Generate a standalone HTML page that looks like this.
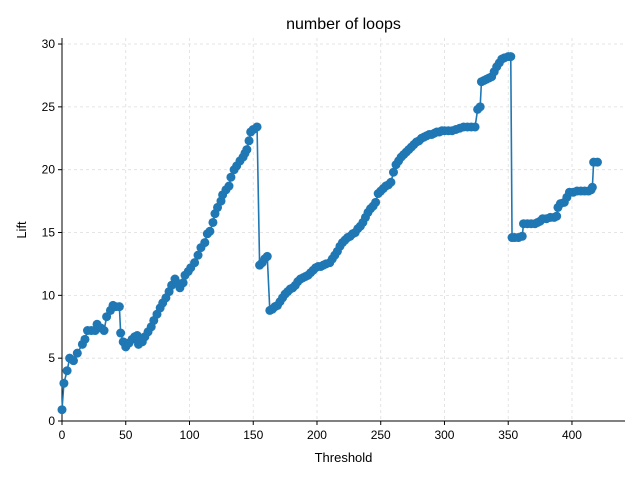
<!DOCTYPE html>
<html><head><meta charset="utf-8"><style>
body{margin:0;background:#fff;}
svg{display:block;font-family:"Liberation Sans","DejaVu Sans",sans-serif;}
</style></head><body>
<svg id="chart" width="640" height="480">
<rect width="640" height="480" fill="#fff"/>
<g id="grid"></g><g id="axes"></g><g id="series"></g>
<text x="343.5" y="29" text-anchor="middle" font-size="16">number of loops</text>
<text x="343.5" y="462" text-anchor="middle" font-size="13">Threshold</text>
<text transform="translate(26,230) rotate(-90)" text-anchor="middle" font-size="13">Lift</text>
</svg>
<script>
const thresholds=[0,1.5,4,6,9,12,16,18,20,23,26,27.5,30.5,33,35,38,40,42,45,46,48,50,52.5,55,57,59,60,63,65,67.5,70,72,74.5,77,79,81.5,84,86,88.6,90,92.5,95,96.5,99,101,104,106.7,109,112,114,116,118.4,120,122,124.7,126,128.6,131,132.5,135,137,139.6,142,143.5,145,146.7,148,150,153,155,157,159,161,163,165,167,169,171,173,175,177,179,181,183,185,187,189,191,193,195,197,199,201,203,205,207,210,212,214,216,218,220,222,224,226,228,230,232,234,236,238,240,242,244,246,248,250,252,254,256,258,260,262,264,266,268,270,272,274,276,278,280,282,284,286,288,290,292,294,296,298,300,303,306,309,312,315,318,321,324,326,328,329,331,333,335,337,339,341,343,345,347,350,352,353,355,358,361,362,365,368,371,373,375,377,380,383,386,388,389,391,394,396,398,401,404,407,410,413,415,416,417,420];
const lifts=[0.9,3,4,5,4.8,5.4,6.1,6.5,7.2,7.2,7.2,7.7,7.4,7.2,8.3,8.8,9.2,9.1,9.1,7.0,6.3,5.9,6.2,6.5,6.7,6.8,6.1,6.3,6.7,7.1,7.5,8.0,8.5,9.0,9.4,9.8,10.3,10.8,11.3,11.0,10.6,11.0,11.6,11.9,12.2,12.6,13.2,13.8,14.2,14.9,15.1,15.8,16.5,17.0,17.5,18.0,18.4,18.7,19.4,20.0,20.3,20.7,21.0,21.3,21.6,22.3,23.0,23.2,23.4,12.4,12.6,12.9,13.1,8.8,8.9,9.1,9.2,9.5,9.8,10.1,10.3,10.5,10.6,10.8,11.1,11.3,11.4,11.5,11.6,11.8,12.0,12.2,12.3,12.3,12.4,12.5,12.6,12.9,13.2,13.5,13.9,14.2,14.4,14.6,14.7,14.9,15.0,15.3,15.5,15.8,16.2,16.6,16.9,17.1,17.4,18.1,18.3,18.5,18.7,18.8,19.0,19.8,20.4,20.7,21.0,21.2,21.4,21.6,21.8,22.0,22.2,22.3,22.5,22.6,22.7,22.8,22.8,22.9,23.0,23.0,23.1,23.1,23.1,23.1,23.2,23.3,23.4,23.4,23.4,23.4,24.8,25.0,27.0,27.1,27.2,27.3,27.4,27.8,28.2,28.5,28.8,28.9,29.0,29.0,14.6,14.6,14.6,14.7,15.7,15.7,15.7,15.7,15.8,15.9,16.1,16.1,16.2,16.2,16.3,17.0,17.3,17.4,17.8,18.2,18.2,18.3,18.3,18.3,18.3,18.4,18.6,20.6,20.6];
const xTicks=[0,50,100,150,200,250,300,350,400];
const yTicks=[0,5,10,15,20,25,30];
const X0=62,X1=625,Y0=421,Y1=38,XMAX=441.6,YMAX=30.48;
const sx=v=>X0+v/XMAX*(X1-X0), sy=v=>Y0-v/YMAX*(Y0-Y1);
const NS='http://www.w3.org/2000/svg';
function mk(tag,parent,attrs){const e=document.createElementNS(NS,tag);for(const k in attrs)e.setAttribute(k,attrs[k]);parent.appendChild(e);return e;}
const grid=document.getElementById('grid'),axes=document.getElementById('axes'),series=document.getElementById('series');
xTicks.forEach(t=>{const x=sx(t);
 const g=mk('line',grid,{x1:x,x2:x,y1:Y1,y2:Y0,stroke:'#ddd','stroke-dasharray':'3,3','stroke-width':0.8});
 
 
 mk('line',axes,{x1:x,x2:x,y1:Y0,y2:Y0+4,stroke:'#000'});
 const l=mk('text',axes,{x:x,y:Y0+18,'text-anchor':'middle','font-size':12});l.textContent=t;
 
 });
yTicks.forEach(t=>{const y=sy(t);
 const g=mk('line',grid,{x1:X0,x2:X1,y1:y,y2:y,stroke:'#ddd','stroke-dasharray':'3,3','stroke-width':0.8});
 
 
 mk('line',axes,{x1:X0-4,x2:X0,y1:y,y2:y,stroke:'#000'});
 const l=mk('text',axes,{x:X0-7,y:y+4,'text-anchor':'end','font-size':12});l.textContent=t;
 
 });
const xa=mk('line',axes,{x1:X0,x2:X1,y1:Y0,y2:Y0,stroke:'#000','stroke-width':1});


const ya=mk('line',axes,{x1:X0,x2:X0,y1:Y1,y2:Y0,stroke:'#000','stroke-width':1});


const pts=thresholds.map((t,i)=>sx(t)+','+sy(lifts[i])).join(' ');
const pl=mk('polyline',series,{points:pts,fill:'none',stroke:'#1f77b4','stroke-width':1.6});


thresholds.forEach((t,i)=>{const c=mk('circle',series,{cx:sx(t),cy:sy(lifts[i]),r:4.5,fill:'#1f77b4'});
 
 });
</script>
</body></html>
